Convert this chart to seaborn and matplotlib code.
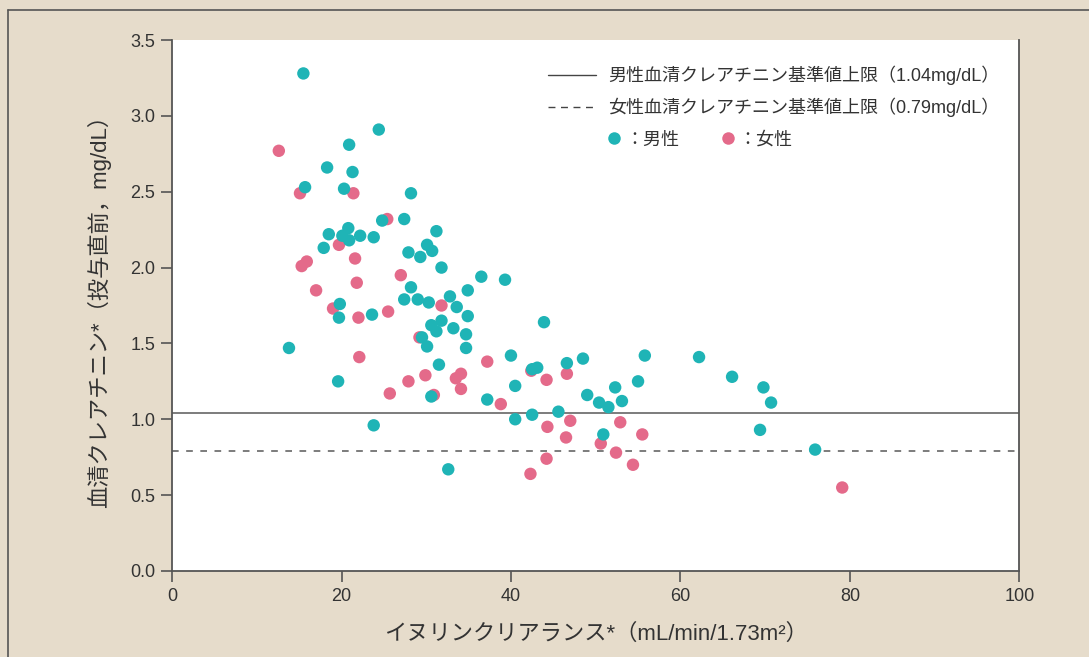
import matplotlib
matplotlib.use("Agg")
import matplotlib.pyplot as plt
import pandas as pd
import seaborn as sns
from matplotlib.lines import Line2D

# inulin clearance (mL/min/1.73m2) and serum creatinine (mg/dL)
male_x = [15.5, 24.4, 20.9, 18.3, 21.3, 15.7, 20.3, 28.2, 24.8, 27.4,
          31.2, 18.5, 20.8, 20.1, 20.9, 22.2, 23.8, 17.9, 27.9, 30.1,
          30.7, 29.3, 31.8, 36.5, 39.3, 28.2, 27.4, 29.0, 30.3, 32.8,
          33.6, 34.9, 19.8, 19.7, 23.6, 34.9, 30.6, 31.8, 31.2, 33.2,
          29.5, 30.1, 34.7, 34.7, 13.8, 43.9, 31.5, 40.0, 42.5, 43.1,
          46.6, 48.5, 55.8, 62.2, 40.5, 37.2, 30.6, 49.0, 50.4, 51.5,
          52.3, 53.1, 55.0, 45.6, 42.5, 40.5, 50.9, 32.6, 19.6, 23.8,
          66.1, 69.8, 70.7, 69.4, 75.9]
male_y = [3.28, 2.91, 2.81, 2.66, 2.63, 2.53, 2.52, 2.49, 2.31, 2.32,
          2.24, 2.22, 2.26, 2.21, 2.18, 2.21, 2.20, 2.13, 2.10, 2.15,
          2.11, 2.07, 2.00, 1.94, 1.92, 1.87, 1.79, 1.79, 1.77, 1.81,
          1.74, 1.85, 1.76, 1.67, 1.69, 1.68, 1.62, 1.65, 1.58, 1.60,
          1.54, 1.48, 1.56, 1.47, 1.47, 1.64, 1.36, 1.42, 1.33, 1.34,
          1.37, 1.40, 1.42, 1.41, 1.22, 1.13, 1.15, 1.16, 1.11, 1.08,
          1.21, 1.12, 1.25, 1.05, 1.03, 1.00, 0.90, 0.67, 1.25, 0.96,
          1.28, 1.21, 1.11, 0.93, 0.80]

female_x = [12.6, 15.1, 21.4, 25.4, 19.7, 21.6, 15.3, 15.9, 21.8, 17.0,
            27.0, 19.0, 22.0, 25.5, 31.8, 29.2, 22.1, 37.2, 29.9, 33.5,
            34.1, 27.9, 34.1, 25.7, 30.9, 38.8, 42.4, 44.2, 46.6, 47.0,
            44.3, 46.5, 52.9, 55.5, 50.6, 52.4, 44.2, 54.4, 42.3, 79.1]
female_y = [2.77, 2.49, 2.49, 2.32, 2.15, 2.06, 2.01, 2.04, 1.90, 1.85,
            1.95, 1.73, 1.67, 1.71, 1.75, 1.54, 1.41, 1.38, 1.29, 1.27,
            1.30, 1.25, 1.20, 1.17, 1.16, 1.10, 1.32, 1.26, 1.30, 0.99,
            0.95, 0.88, 0.98, 0.90, 0.84, 0.78, 0.74, 0.70, 0.64, 0.55]

male_limit = 1.04
female_limit = 0.79

x_ticks = [0, 20, 40, 60, 80, 100]
y_ticks = [0.0, 0.5, 1.0, 1.5, 2.0, 2.5, 3.0, 3.5]

teal = "#1fb4b6"
pink = "#e46a8a"
bg = "#e6dccb"
ink = "#333333"
spine_col = "#555555"

df = pd.DataFrame({
    "clearance": female_x + male_x,
    "creatinine": female_y + male_y,
    "sex": ["女性"] * len(female_x) + ["男性"] * len(male_x),
})

sns.set_theme(style="ticks")
plt.rcParams["font.family"] = ["Liberation Sans", "Noto Sans CJK JP", "DejaVu Sans"]
plt.rcParams["text.color"] = ink
plt.rcParams["axes.labelcolor"] = ink
plt.rcParams["xtick.color"] = spine_col
plt.rcParams["ytick.color"] = spine_col
plt.rcParams["xtick.labelcolor"] = ink
plt.rcParams["ytick.labelcolor"] = ink

fig = plt.figure(figsize=(10.89, 6.57), dpi=100, facecolor=bg)
ax = fig.add_axes([0.158, 0.131, 0.778, 0.808])
ax.set_facecolor("white")

ax.axhline(male_limit, color="#666666", lw=1.2, zorder=1)
ax.axhline(female_limit, color="#666666", lw=1.2, ls=(0, (4, 4.5)), zorder=1)

sns.scatterplot(data=df, x="clearance", y="creatinine", hue="sex",
                palette={"男性": teal, "女性": pink}, s=80, linewidth=0,
                alpha=1, legend=False, ax=ax, zorder=3)

ax.set_xlim(0, 100)
ax.set_ylim(0, 3.5)
ax.set_xticks(x_ticks)
ax.set_yticks(y_ticks)
ax.set_yticklabels(["{:.1f}".format(v) for v in y_ticks])
ax.tick_params(axis="both", labelsize=13, length=8, width=1.2, pad=4)

for side in ["left", "bottom", "right"]:
    ax.spines[side].set_color(spine_col)
    ax.spines[side].set_linewidth(1.3)
ax.spines["top"].set_visible(False)

ax.set_xlabel("イヌリンクリアランス*（mL/min/1.73m²）", fontsize=16, labelpad=14)
ax.set_ylabel("血清クレアチニン*（投与直前，mg/dL）", fontsize=16, labelpad=14)

# legend: reference lines, then the two marker colours side by side
line_handles = [
    Line2D([], [], color="#444444", lw=1.0),
    Line2D([], [], color="#444444", lw=1.0, ls=(0, (5, 4))),
]
leg1 = ax.legend(line_handles,
                 ["男性血清クレアチニン基準値上限（1.04mg/dL）",
                  "女性血清クレアチニン基準値上限（0.79mg/dL）"],
                 loc="upper left", bbox_to_anchor=(0.424, 0.983),
                 frameon=False, fontsize=13, handlelength=2.7,
                 handletextpad=0.65, labelspacing=0.7)
ax.add_artist(leg1)

dot_handles = [
    Line2D([], [], ls="", marker="o", ms=9, mec="none", color=teal),
    Line2D([], [], ls="", marker="o", ms=9, mec="none", color=pink),
]
ax.legend(dot_handles, ["：男性", "：女性"], loc="upper left",
          bbox_to_anchor=(0.492, 0.858), ncol=2, frameon=False, fontsize=13,
          handlelength=1.0, handletextpad=0.1, columnspacing=2.2)

# outer frame of the figure panel
fig.add_artist(Line2D([8 / 1089, 8 / 1089], [0, 1 - 10 / 657],
                      color="#555555", lw=1.2))
fig.add_artist(Line2D([8 / 1089, 1], [1 - 10 / 657, 1 - 10 / 657],
                      color="#555555", lw=1.2))

fig.savefig("out.png", dpi=100, facecolor=bg)
